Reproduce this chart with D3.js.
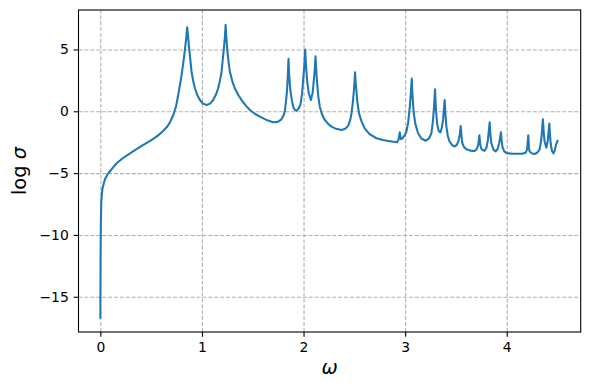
<!DOCTYPE html>
<html>
<head>
<meta charset="utf-8">
<script src="https://cdn.jsdelivr.net/npm/d3@7"></script>
<style>
body { margin: 0; background: #fff; }
svg { display: block; font-family: "DejaVu Sans", sans-serif; }
</style>
</head>
<body>
<svg width="590" height="390"></svg>
<script>
// values
const omega = [
    0.000, 0.002, 0.005, 0.010, 0.020, 0.035, 0.046, 0.070, 0.095, 0.130,
    0.161, 0.220, 0.292, 0.360, 0.423, 0.490, 0.554, 0.610, 0.653, 0.685,
    0.718, 0.745, 0.765, 0.784, 0.800, 0.816, 0.833, 0.845, 0.855, 0.865,
    0.875, 0.898, 0.915, 0.931, 0.955, 0.980, 1.010, 1.046, 1.080, 1.111,
    1.140, 1.160, 1.180, 1.193, 1.216, 1.226, 1.233, 1.240, 1.249, 1.262,
    1.275, 1.300, 1.324, 1.355, 1.390, 1.430, 1.472, 1.520, 1.570, 1.635,
    1.701, 1.745, 1.783, 1.805, 1.816, 1.830, 1.839, 1.846, 1.852, 1.858,
    1.865, 1.872, 1.885, 1.898, 1.915, 1.931, 1.950, 1.970, 1.985, 1.996,
    2.007, 2.016, 2.025, 2.035, 2.050, 2.072, 2.090, 2.101, 2.110, 2.118,
    2.126, 2.134, 2.145, 2.160, 2.180, 2.209, 2.240, 2.275, 2.320, 2.374,
    2.410, 2.439, 2.460, 2.472, 2.485, 2.495, 2.501, 2.507, 2.513, 2.521,
    2.530, 2.547, 2.570, 2.603, 2.650, 2.718, 2.780, 2.849, 2.920, 2.935,
    2.947, 2.958, 2.973, 2.995, 3.013, 3.030, 3.045, 3.055, 3.065, 3.073,
    3.085, 3.100, 3.127, 3.160, 3.203, 3.235, 3.258, 3.272, 3.283, 3.294,
    3.303, 3.314, 3.330, 3.347, 3.362, 3.373, 3.389, 3.397, 3.406, 3.420,
    3.438, 3.465, 3.488, 3.510, 3.525, 3.538, 3.547, 3.555, 3.563, 3.580,
    3.603, 3.640, 3.684, 3.705, 3.720, 3.731, 3.738, 3.748, 3.765, 3.783,
    3.800, 3.815, 3.832, 3.840, 3.849, 3.870, 3.891, 3.910, 3.925, 3.943,
    3.950, 3.957, 3.975, 3.996, 4.050, 4.094, 4.150, 4.185, 4.200, 4.212,
    4.218, 4.225, 4.250, 4.274, 4.300, 4.323, 4.340, 4.356, 4.365, 4.373,
    4.390, 4.405, 4.419, 4.426, 4.432, 4.445, 4.461, 4.475, 4.485, 4.500
];
const logSigma = [
    -16.7, -12.0, -9.0, -7.2, -6.3, -5.8, -5.5, -5.1, -4.85, -4.5,
    -4.2, -3.8, -3.4, -3.05, -2.72, -2.4, -2.05, -1.65, -1.3, -0.9,
    -0.3, 0.4, 1.25, 2.15, 2.95, 3.9, 5.0, 5.9, 6.8, 5.9,
    5.0, 3.2, 2.4, 1.86, 1.3, 0.91, 0.62, 0.51, 0.62, 0.91,
    1.4, 1.86, 2.6, 3.2, 5.09, 6.0, 7.0, 6.0, 5.0, 4.0,
    3.2, 2.4, 1.86, 1.35, 0.91, 0.48, 0.1, -0.2, -0.43, -0.7,
    -0.89, -0.86, -0.65, -0.3, 0.0, 1.0, 1.86, 3.0, 4.25, 3.0,
    2.2, 1.6, 0.9, 0.37, 0.1, 0.05, 0.2, 0.55, 1.4, 2.5,
    3.6, 5.0, 3.6, 2.5, 1.5, 0.91, 1.5, 2.5, 3.3, 4.45,
    3.2, 2.26, 1.2, 0.37, -0.2, -0.7, -1.0, -1.24, -1.42, -1.51,
    -1.42, -1.18, -0.7, -0.16, 0.7, 1.6, 2.3, 3.15, 2.3, 1.6,
    0.7, -0.2, -0.8, -1.4, -1.85, -2.18, -2.33, -2.42, -2.5, -2.3,
    -1.7, -2.25, -2.2, -1.95, -1.65, -0.9, 0.3, 1.3, 2.65, 1.2,
    -0.16, -1.0, -1.78, -2.2, -2.38, -2.2, -1.78, -0.9, 0.2, 1.78,
    0.2, -0.97, -1.6, -1.7, -1.3, -0.7, 0.9, -0.3, -1.24, -2.0,
    -2.46, -2.75, -2.85, -2.7, -2.4, -1.9, -1.2, -2.0, -2.59, -2.9,
    -3.07, -3.18, -3.21, -3.05, -2.7, -1.95, -2.6, -3.0, -3.15, -3.19,
    -2.95, -2.3, -0.9, -2.0, -2.6, -3.1, -3.25, -3.05, -2.6, -1.7,
    -2.4, -2.86, -3.25, -3.37, -3.43, -3.44, -3.44, -3.35, -3.1, -1.95,
    -2.9, -3.25, -3.42, -3.45, -3.35, -3.1, -2.3, -0.65, -1.8, -2.46,
    -2.94, -2.32, -1.0, -1.9, -2.59, -3.2, -3.4, -3.1, -2.7, -2.4
];
const xTicks = [0, 1, 2, 3, 4];
const yTicks = [-15, -10, -5, 0, 5];

const width = 590, height = 390;
const margin = {top: 10, right: 9.3, bottom: 58, left: 78.5},
    plotWidth = width - margin.left - margin.right,
    plotHeight = height - margin.top - margin.bottom;

const points = omega.map((w, i) => ({w: w, s: logSigma[i]}));

const svg = d3.select("svg");
const g = svg.append("g")
    .attr("transform", `translate(${margin.left}, ${margin.top})`);

const x = d3.scaleLinear()
    .domain([-0.215, 4.728])
    .range([0, plotWidth]);

const y = d3.scaleLinear()
    .domain([-17.85, 8.19])
    .range([plotHeight, 0]);

// grid
const gridX = g.append("g")
    .attr("transform", `translate(0, ${plotHeight})`)
    .call(d3.axisBottom(x).tickValues(xTicks).tickSize(-plotHeight).tickFormat(""));
const gridY = g.append("g")
    .call(d3.axisLeft(y).tickValues(yTicks).tickSize(-plotWidth).tickFormat(""));
[gridX, gridY].forEach(a => {
    a.select(".domain").remove();
    a.selectAll("line")
        .attr("stroke", "#b0b0b0")
        .attr("stroke-width", 1.1)
        .attr("stroke-dasharray", "4.1,1.8");
});

g.append("clipPath").attr("id", "clip")
    .append("rect").attr("width", plotWidth).attr("height", plotHeight);

const line = d3.line()
    .x(d => x(d.w))
    .y(d => y(d.s));

g.append("path")
    .datum(points)
    .attr("clip-path", "url(#clip)")
    .attr("fill", "none")
    .attr("stroke", "#1f77b4")
    .attr("stroke-width", 2.08)
    .attr("stroke-linejoin", "round")
    .attr("stroke-linecap", "square")
    .attr("d", line);

// axes
const xAxisG = g.append("g")
    .attr("transform", `translate(0, ${plotHeight})`)
    .call(d3.axisBottom(x).tickValues(xTicks).tickSize(4.86).tickPadding(4.86).tickFormat(d3.format("d")));
const yAxisG = g.append("g")
    .call(d3.axisLeft(y).tickValues(yTicks).tickSize(4.86).tickPadding(4.86).tickFormat(d3.format("d")));
[xAxisG, yAxisG].forEach(a => {
    a.select(".domain").remove();
    a.selectAll("line").attr("stroke", "#000").attr("stroke-width", 1.1);
    a.selectAll("text")
        .attr("fill", "#000")
        .attr("font-size", "13.9px")
        .attr("font-family", "DejaVu Sans");
});

// frame
g.append("rect")
    .attr("width", plotWidth)
    .attr("height", plotHeight)
    .attr("fill", "none")
    .attr("stroke", "#000")
    .attr("stroke-width", 1.1);

// labels
svg.append("text")
    .attr("x", margin.left + plotWidth / 2)
    .attr("y", 374)
    .attr("text-anchor", "middle")
    .attr("font-size", "19.4px")
    .attr("font-style", "italic")
    .text("ω");

const yLabel = svg.append("text")
    .attr("transform", `translate(26, ${margin.top + plotHeight / 2}) rotate(-90)`)
    .attr("text-anchor", "middle")
    .attr("font-size", "19.4px");
yLabel.append("tspan").text("log ");
yLabel.append("tspan").attr("font-style", "italic").text("σ");
</script>
</body>
</html>
